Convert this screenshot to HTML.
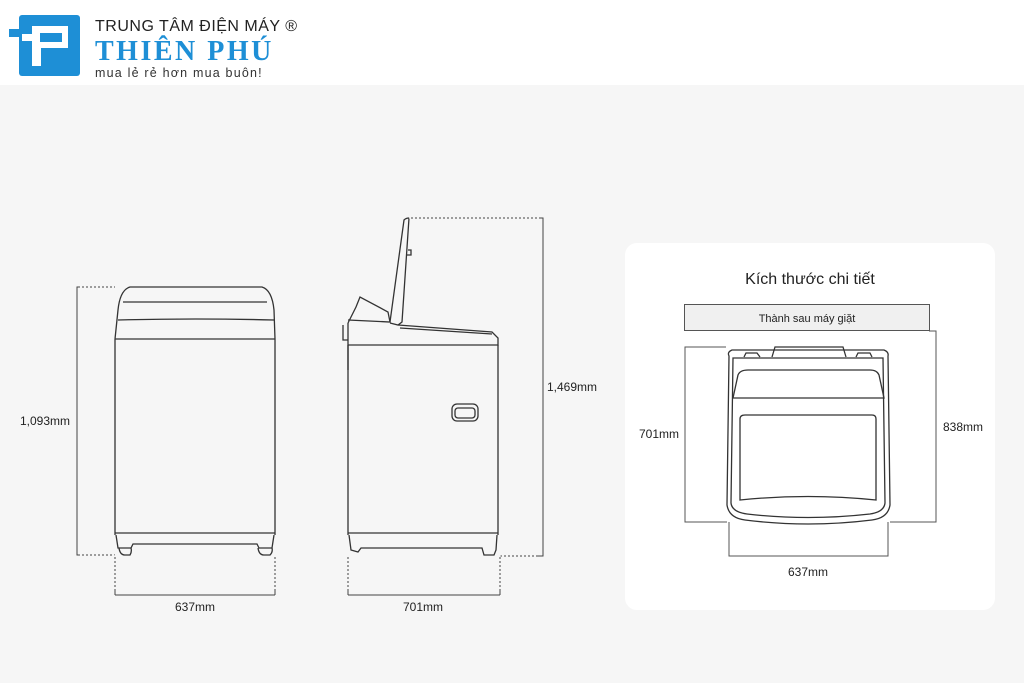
<!DOCTYPE html>
<html><head><meta charset="utf-8"><style>
html,body{margin:0;padding:0;width:1024px;height:683px;overflow:hidden;background:#f6f6f6;font-family:"Liberation Sans",sans-serif}
</style></head><body>
<svg width="1024" height="683" viewBox="0 0 1024 683" xmlns="http://www.w3.org/2000/svg" font-family="Liberation Sans, sans-serif">
<rect x="0" y="0" width="1024" height="85" fill="#fff"/>
<!-- logo -->
<rect x="19" y="15" width="61" height="61" rx="3" fill="#1e8fd6"/>
<rect x="9" y="29" width="12" height="8" fill="#1e8fd6"/>
<rect x="32" y="26" width="36" height="22" fill="#fff"/>
<rect x="40" y="33" width="22" height="9" fill="#1e8fd6"/>
<rect x="32" y="48" width="9" height="18" fill="#fff"/>
<rect x="22" y="34" width="10" height="7" fill="#fff"/>
<text x="95" y="31" font-size="16" fill="#222" letter-spacing="0.5">TRUNG TÂM ĐIỆN MÁY ®</text>
<text x="95" y="60" font-size="28" font-weight="bold" fill="#1e8fd6" font-family="Liberation Serif, serif" letter-spacing="2.5">THIÊN PHÚ</text>
<text x="95" y="77" font-size="12.5" fill="#333" letter-spacing="1.2">mua lẻ rẻ hơn mua buôn!</text>

<g fill="none" stroke="#333" stroke-width="1.3">
<!-- front washer -->
<path d="M115 339 L118 310 Q120 290 130 287 L262 287 Q272 290 274 310 L275 339"/>
<path d="M123 302 L267 302"/>
<path d="M118 320 Q195 318 274 320"/>
<path d="M115 339 L275 339"/>
<path d="M115 339 L115 535 M275 339 L275 535"/>
<path d="M115 533 L275 533"/>
<path d="M116 535 L118 548 L131 548 L133 544 L257 544 L259 548 L272 548 L274 535"/>
<path d="M119 548 Q120 555 125 555 L130 555 Q132 552 131 548 M258 548 Q259 555 264 555 L270 555 Q273 552 272 548"/>
<!-- side washer -->
<path d="M348 345 L348 535 M498 345 L498 535"/>
<path d="M348 323 L348 370 M343 325 L343 340 L348 340"/>
<path d="M348 345 L498 345 L498 338 L492 332 L398 325"/>
<path d="M348 323 L356 307 L360 297 L388 312 L390 322 L348 320"/>
<path d="M390 322 L404 220 Q406 218 409 218 L402 322 L398 325 L390 323"/>
<path d="M408 250 L411 250 L411 255 L407 255"/>
<path d="M400 328 L492 334"/>
<path d="M348 533 L498 533"/>
<path d="M349 535 L351 550 L358 552 L361 548 L482 548 L484 555 L494 555 L496 550 L497 535"/>
<rect x="452" y="404" width="26" height="17" rx="5"/>
<rect x="455" y="408" width="20" height="10" rx="3"/>
</g>
<g fill="none" stroke="#444" stroke-width="1">
<path d="M115 287 L77 287 L77 555 L115 555"/>
<path d="M115 595 L275 595 M115 555 L115 595 M275 555 L275 595" />
<path d="M409 218 L543 218 L543 556 L498 556"/>
<path d="M348 595 L500 595 M348 555 L348 595 M500 555 L500 595"/>
</g>
<g stroke="#f6f6f6" stroke-width="1" stroke-dasharray="2 2" fill="none">
<path d="M115 555 L115 590 M275 555 L275 590 M348 555 L348 590 M500 555 L500 590 M409 218 L540 218 M498 556 L538 556 M80 287 L115 287 M80 555 L115 555"/>
</g>
<g font-size="12" fill="#222">
<text x="20" y="425">1,093mm</text>
<text x="175" y="611">637mm</text>
<text x="403" y="611">701mm</text>
<text x="547" y="391">1,469mm</text>
</g>
<rect x="625" y="243" width="370" height="367" rx="12" fill="#fff"/>
<text x="810" y="284" font-size="16" fill="#222" text-anchor="middle">Kích thước chi tiết</text>
<rect x="684.5" y="304.5" width="245" height="26" fill="#f0f0f0" stroke="#555"/>
<text x="807" y="322" font-size="11" fill="#222" text-anchor="middle">Thành sau máy giặt</text>
<g fill="none" stroke="#333" stroke-width="1.3">
<path d="M729 356 Q727 352 732 350 L884 350 Q889 352 888 356 L890 505 Q888 518 872 520 Q808 528 745 520 Q729 518 727 505 Z"/>
<path d="M733 358 L883 358 L885 503 Q884 512 870 514 Q808 521 747 514 Q732 512 731 503 Z"/>
<path d="M738 375 Q740 370 748 370 L870 370 Q877 370 879 375 L884 398 L733 398 Z"/>
<path d="M740 419 Q740 415 745 415 L872 415 Q876 415 876 419 L876 500 Q808 493 740 500 Z"/>
<path d="M772 357 L775 347 L843 347 L846 357"/>
<path d="M744 357 L746 353 L757 353 L760 357 M856 357 L858 353 L870 353 L872 357"/>
</g>
<g fill="none" stroke="#555" stroke-width="1">
<path d="M726 347 L685 347 L685 522 L727 522"/>
<path d="M929 331 L936 331 L936 522 L890 522"/>
<path d="M729 522 L729 556 L888 556 L888 522"/>
</g>
<g font-size="12" fill="#222">
<text x="639" y="438">701mm</text>
<text x="943" y="431">838mm</text>
<text x="788" y="576">637mm</text>
</g>
</svg>
</body></html>
